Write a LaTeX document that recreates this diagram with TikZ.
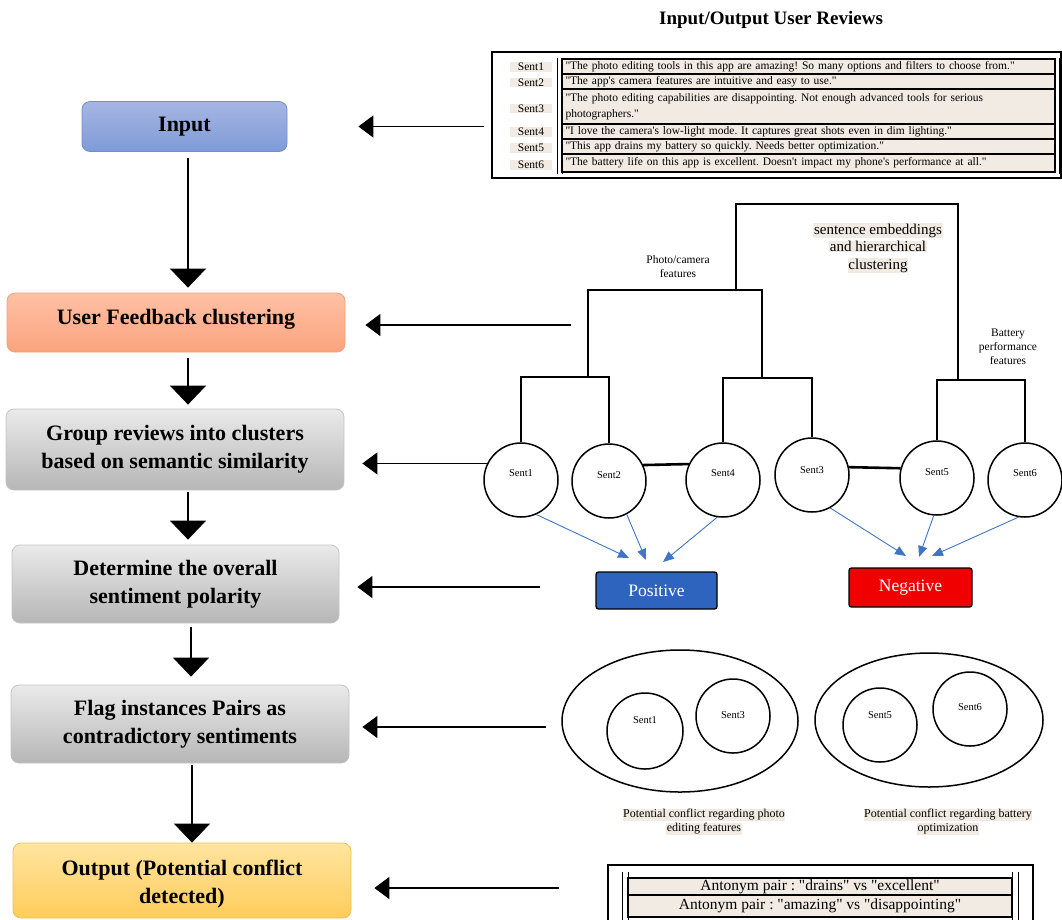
\documentclass[tikz,border=0pt]{standalone}
\usepackage{fontspec}
\setmainfont{Liberation Serif}[Ligatures=TeXOff]
\usetikzlibrary{arrows.meta,shapes.geometric,calc}
\definecolor{beige}{HTML}{F2EBE3}
\definecolor{arrblue}{HTML}{3F74C6}
\definecolor{posblue}{HTML}{2E64BE}
\definecolor{negred}{HTML}{F00000}
\setlength{\fboxsep}{0.6pt}
\frenchspacing
\newcommand{\up}[2]{\raisebox{#1}[\height][\depth]{#2}}
\begin{document}
\begin{tikzpicture}[x=1pt,y=-1pt,
  box/.style={draw, rounded corners=8pt, line width=0.8pt, align=center, inner sep=2pt,
    font=\fontsize{22}{28}\selectfont\bfseries},
  darr/.style={line width=1.5pt, -{Triangle[length=19pt,width=36pt]}},
  larr/.style={line width=1.5pt, -{Triangle[length=15pt,width=22pt]}},
  dend/.style={line width=2.6pt},
  sent/.style={circle, draw, line width=1.5pt, fill=white, minimum size=74pt, inner sep=0pt,
    font=\fontsize{10.5}{12}\selectfont},
  barr/.style={draw=arrblue, line width=0.9pt, -{Triangle[length=11pt,width=9pt]}},
  pol/.style={draw, line width=1.3pt, rounded corners=2.5pt, text=white,
    font=\fontsize{17.5}{20}\selectfont},
  cell/.style={draw, line width=1.1pt, fill=beige, minimum width=493pt, text width=486pt,
    inner xsep=3.5pt, inner ysep=0pt, align=left, font=\fontsize{11.5}{15.5}\selectfont},
  lbl/.style={fill=beige, minimum width=42pt, inner ysep=1pt, font=\fontsize{11.5}{13}\selectfont},
  tline/.style={line width=0.9pt},
  smalltxt/.style={align=center, font=\fontsize{11.5}{14}\selectfont},
  capt/.style={align=center, font=\fontsize{12}{14}\selectfont},
  acell/.style={draw, line width=1.1pt, fill=beige, minimum width=384pt, inner sep=0pt,
    font=\fontsize{15.5}{17}\selectfont},
  ellip/.style={ellipse, draw, line width=1.5pt, inner sep=0pt},
]
\useasboundingbox (0,0) rectangle (1062,919);
\clip (0,0) rectangle (1062,919);

% ---------------- left flow -----------------
\node[box, draw={rgb,255:red,110;green,143;blue,213}, top color={rgb,255:red,166;green,182;blue,226}, bottom color={rgb,255:red,126;green,155;blue,216},
  minimum width=205pt, minimum height=50pt] (input) at (184.5,126.5) {Input};
\node[box, draw={rgb,255:red,245;green,160;blue,120}, top color={rgb,255:red,255;green,192;blue,165}, bottom color={rgb,255:red,251;green,164;blue,126},
  minimum width=338pt, minimum height=59pt, text depth=10.8pt] (ufc) at (176,322.5) {User Feedback clustering};
\node[box, draw={rgb,255:red,195;green,195;blue,195}, top color={rgb,255:red,234;green,234;blue,234}, bottom color={rgb,255:red,182;green,182;blue,182},
  minimum width=338pt, minimum height=81pt] (group) at (175,449.5) {Group reviews into clusters\\based on semantic similarity};
\node[box, draw={rgb,255:red,195;green,195;blue,195}, top color={rgb,255:red,234;green,234;blue,234}, bottom color={rgb,255:red,182;green,182;blue,182},
  minimum width=327pt, minimum height=78pt] (det) at (175.5,584) {Determine the overall\\sentiment polarity};
\node[box, draw={rgb,255:red,195;green,195;blue,195}, top color={rgb,255:red,234;green,234;blue,234}, bottom color={rgb,255:red,182;green,182;blue,182},
  minimum width=338pt, minimum height=78pt] (flag) at (180,724) {Flag instances Pairs as\\contradictory sentiments};
\node[box, draw={rgb,255:red,243;green,192;blue,80}, top color={rgb,255:red,255;green,229;blue,160}, bottom color={rgb,255:red,255;green,204;blue,90},
  minimum width=338pt, minimum height=75pt] (out) at (182,880.5)
  {\up{-3pt}{\begin{tabular}{@{}c@{}}Output (Potential conflict\\detected)\end{tabular}}};

\coordinate (ax1) at (188,0);
\coordinate (ax2) at (191,0);
\coordinate (ax3) at (192,0);
\draw[darr, shorten <=6.5pt, shorten >=5pt] (input.south -| ax1) -- (ufc.north -| ax1);
\draw[darr, shorten <=6pt, shorten >=4pt] (ufc.south -| ax1) -- (group.north -| ax1);
\draw[darr, shorten <=2pt, shorten >=5pt] (group.south -| ax1) -- (det.north -| ax1);
\draw[darr, shorten <=4pt, shorten >=8pt] (det.south -| ax2) -- (flag.north -| ax2);
\draw[darr, shorten <=2pt, shorten >=0pt] (flag.south -| ax3) -- (out.north -| ax3);

% ---------------- review table -----------------
\node[font=\fontsize{19}{22}\selectfont\bfseries] (title) at (771,20) {Input/Output User Reviews};
\node[draw, line width=1.6pt, minimum width=569pt, minimum height=126pt, inner sep=0pt] (revtab) at (776.5,115) {};
\draw[tline] (557,58) -- (557,174);
\draw[tline] (562,58) -- (562,174);
\draw[tline] (1059,58) -- (1059,174);
\node[cell, minimum height=15pt] (r1) at (808.5,66.5) {"The photo editing tools in this app are amazing! So many options and filters to choose from."};
\node[cell, minimum height=15pt] (r2) at (808.5,81.5) {"The app's camera features are intuitive and easy to use."};
\node[cell, minimum height=35pt] (r3) at (808.5,106.5) {"The photo editing capabilities are disappointing. Not enough advanced tools for serious\\photographers."};
\node[cell, minimum height=15pt] (r4) at (808.5,131.5) {"I love the camera's low-light mode. It captures great shots even in dim lighting."};
\node[cell, minimum height=15pt] (r5) at (808.5,146.5) {"This app drains my battery so quickly. Needs better optimization."};
\node[cell, minimum height=18pt] (r6) at (808.5,163) {"The battery life on this app is excellent. Doesn't impact my phone's performance at all."};
\node[lbl] (l1) at (531,67) {Sent1};
\node[lbl] (l2) at (531,82.5) {Sent2};
\node[lbl] (l3) at (531,108.5) {Sent3};
\node[lbl] (l4) at (531,132) {Sent4};
\node[lbl] (l5) at (531,148) {Sent5};
\node[lbl] (l6) at (531,165) {Sent6};

% ---------------- dendrogram -----------------
\node[sent] (s1) at (521,480) {\up{7pt}{Sent1}};
\node[sent] (s2) at (609,481) {\up{6pt}{Sent2}};
\node[sent] (s4) at (723,480) {\up{7pt}{Sent4}};
\node[sent] (s3) at (812,475) {\up{5pt}{Sent3}};
\node[sent] (s5) at (937,478) {\up{6pt}{Sent5}};
\node[sent] (s6) at (1025,480) {\up{7pt}{Sent6}};

\coordinate (b12) at (588,377);
\coordinate (b43) at (762,378);
\coordinate (b56) at (958,380);
\coordinate (photo) at (736,290);
\coordinate (topc) at (850,204);
\draw[dend] (s1.north) |- (b12) -| (s2.north);
\draw[dend] (s4.north) |- (b43) -| (s3.north);
\draw[dend] (s5.north) |- (b56) -| (s6.north);
\draw[dend] (b12) |- (photo) -| (b43);
\draw[dend] (photo) |- (topc) -| (b56);
\draw[dend] (s2.25) -- (s4.155);
\draw[dend] (s3.12) -- (s5.165);

\node[smalltxt] (phl) at (678,267) {Photo/camera\\features};
\node[smalltxt] (bal) at (1008,347) {Battery\\performance\\features};
\node[align=center, font=\fontsize{15}{17.5}\selectfont] (emb) at (878,248)
  {\colorbox{beige}{sentence embeddings}\\\colorbox{beige}{and hierarchical}\\\colorbox{beige}{clustering}};

% ---------------- polarity -----------------
\node[pol, fill=posblue, minimum width=121pt, minimum height=37pt] (pos) at (656.5,590.5) {Positive};
\node[pol, fill=negred, minimum width=123pt, minimum height=39pt] (neg) at (910.5,587.5) {Negative};
\coordinate (pa1) at (629,558);
\coordinate (pa2) at (646,560);
\coordinate (pa3) at (663,562);
\coordinate (na1) at (906,556);
\coordinate (na2) at (919,557);
\coordinate (na3) at (932,556);
\draw[barr] (s1.-66) -- (pa1);
\draw[barr] (s2.-62) -- (pa2);
\draw[barr] (s4.-99) -- (pa3);
\draw[barr] (s3.-61) -- (na1);
\draw[barr] (s5.-95) -- (na2);
\draw[barr] (s6.-100) -- (na3);

% ---------------- conflict groups -----------------
\node[ellip, minimum width=236pt, minimum height=142pt] (e1) at (680,721) {};
\node[ellip, minimum width=228pt, minimum height=134pt] (e2) at (929,720) {};
\node[sent, minimum size=76pt] (c1) at (645,731) {\up{11pt}{Sent1}};
\node[sent] (c3) at (733,716) {\up{1pt}{Sent3}};
\node[sent] (c5) at (880,725) {\up{10pt}{Sent5}};
\node[sent] (c6) at (970,709) {\up{2pt}{Sent6}};
\node[capt] (cap1) at (704,822) {\colorbox{beige}{Potential conflict regarding photo}\\\colorbox{beige}{editing features}};
\node[capt] (cap2) at (948,822) {\colorbox{beige}{Potential conflict regarding battery}\\\colorbox{beige}{optimization}};

% ---------------- antonym table -----------------
\node[draw, line width=1.6pt, minimum width=425pt, minimum height=70pt, inner sep=0pt] (bottab) at (820.5,900) {};
\draw[tline] (622,872) -- (622,925);
\draw[tline] (628,872) -- (628,925);
\draw[tline] (1012,872) -- (1012,925);
\draw[tline] (1018,872) -- (1018,925);
\node[acell, minimum height=17pt] (a1) at (820,886.5) {Antonym pair : "drains" vs "excellent"};
\node[acell, minimum height=22pt] (a2) at (820,906) {Antonym pair : "amazing" vs "disappointing"};

% ---------------- left-pointing arrows -----------------
\coordinate (ufcsrc) at (571,325);
\coordinate (detsrc) at (540,587);
\coordinate (flagsrc) at (546,727);
\coordinate (outsrc) at (559,888);
\draw[larr, shorten <=7pt, shorten >=71pt] (revtab.west |- input.east) -- (input.east);
\draw[larr, shorten >=20pt] (ufcsrc) -- (ufcsrc -| ufc.east);
\draw[larr, shorten >=18pt] (s1.154) -- (s1.154 -| group.east);
\draw[larr, shorten >=18pt] (detsrc) -- (detsrc -| det.east);
\draw[larr, shorten >=13pt] (flagsrc) -- (flagsrc -| flag.east);
\draw[larr, shorten >=23pt] (outsrc) -- (outsrc -| out.east);
\end{tikzpicture}
\end{document}
